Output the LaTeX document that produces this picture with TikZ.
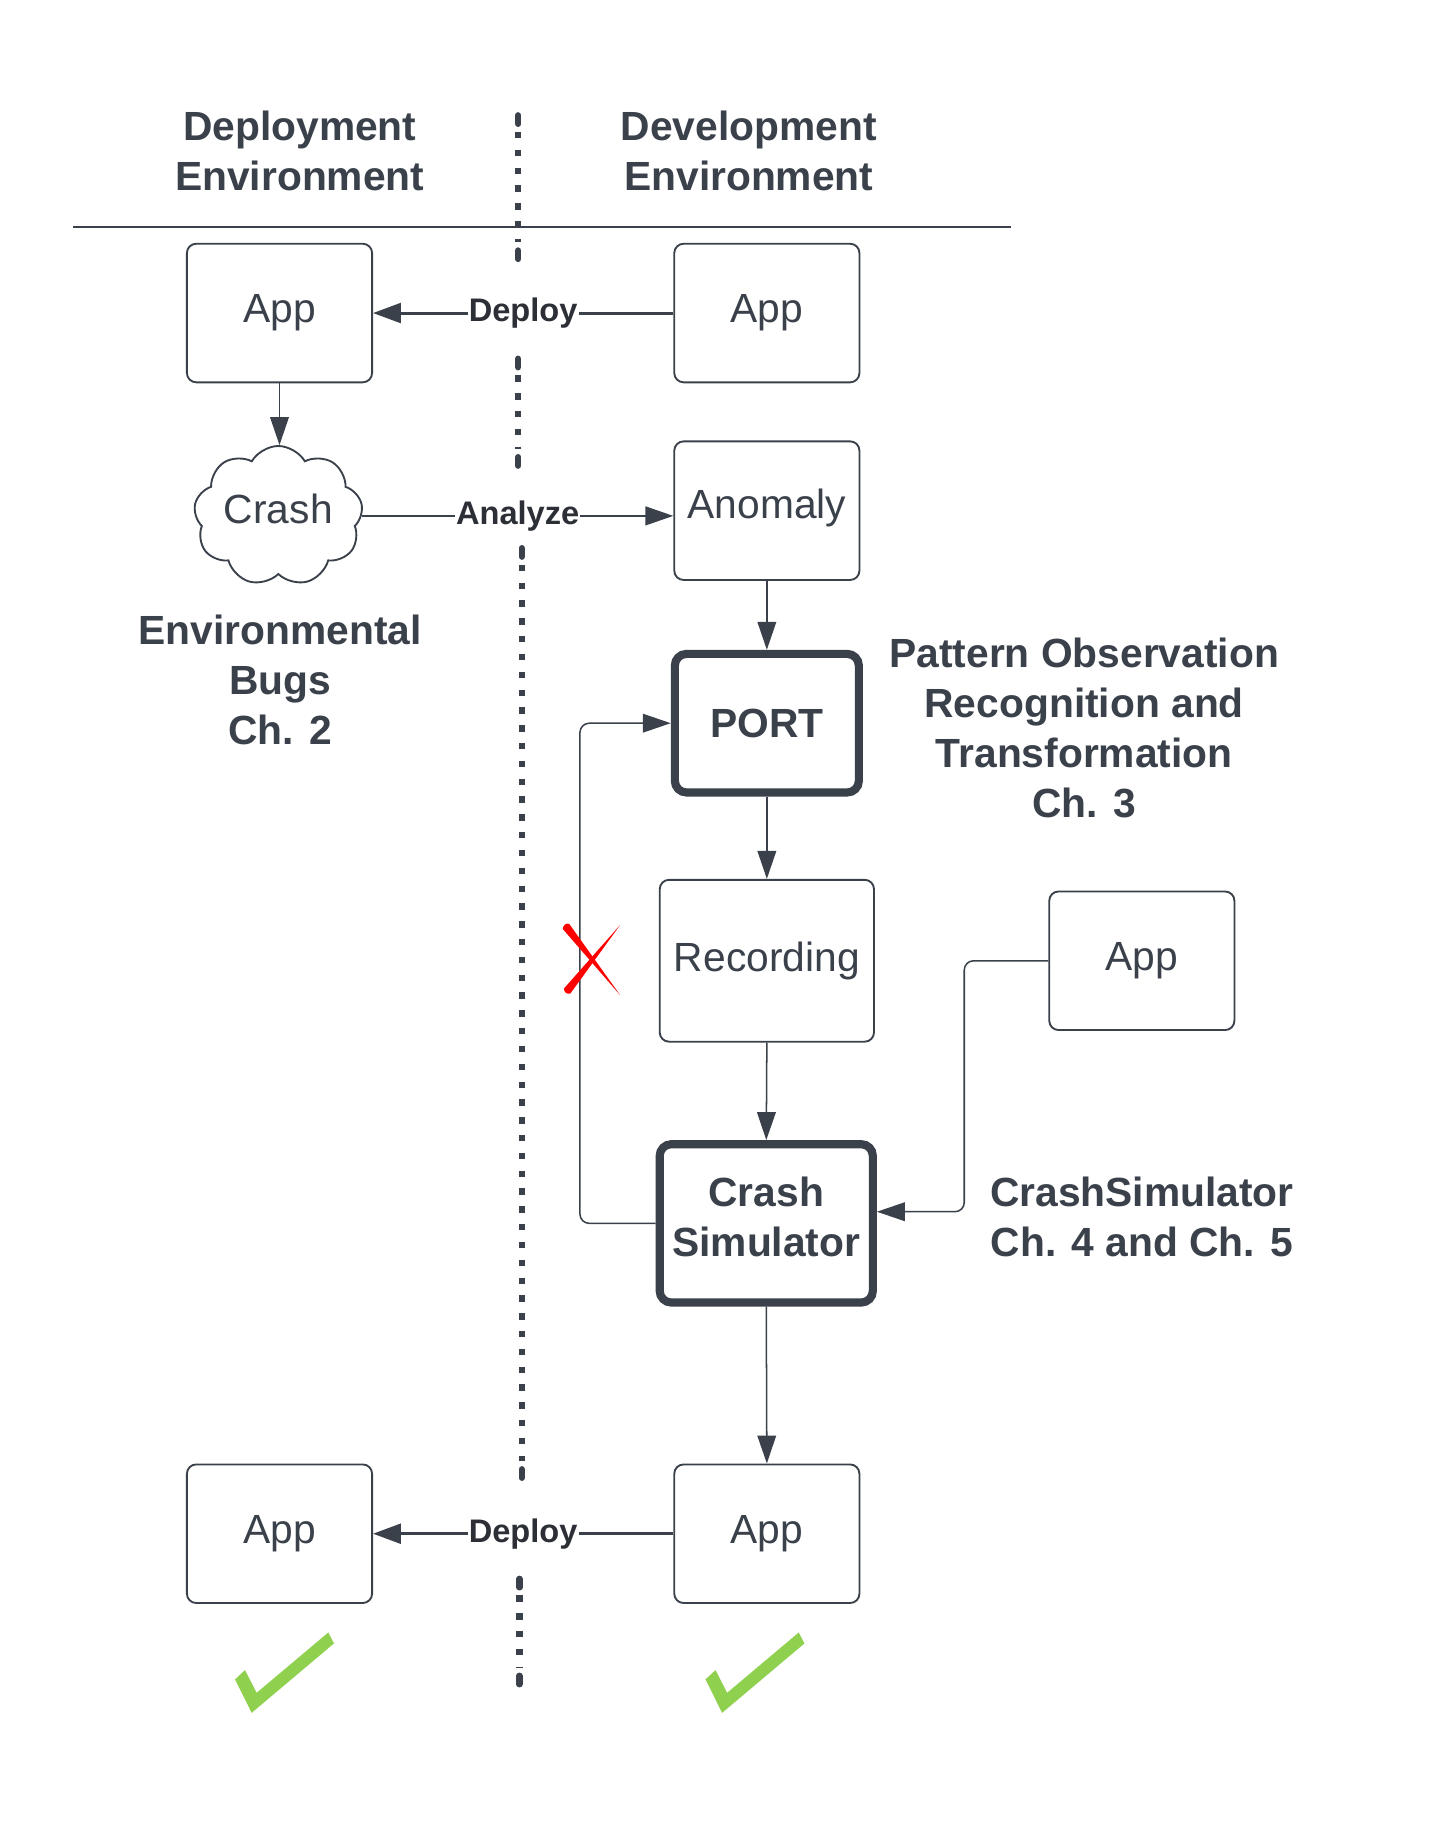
\documentclass[tikz,border=0pt]{standalone}
\usepackage{fontspec}
\setmainfont{Liberation Sans}
\usetikzlibrary{arrows.meta,shapes.symbols}
\definecolor{ink}{HTML}{3A414A}
\definecolor{lbl}{HTML}{2C2F35}
\definecolor{okgreen}{HTML}{8FD14F}
\definecolor{xred}{HTML}{FF0000}
\newcommand\divseg[3]{%
  \draw[divcap] (#1,#2+2.75) -- (#1,#2+10);
  \draw[divider] (#1,#2+17) -- (#1,#3-17);
  \draw[divcap] (#1,#3-10) -- (#1,#3-2.75);
}
\begin{document}
\begin{tikzpicture}[x=1pt,y=-1pt,
  box/.style={draw=ink, line width=1.6pt, rounded corners=8pt, inner sep=0pt, text=ink,
    font=\fontsize{35}{43}\selectfont, minimum width=159pt, minimum height=119pt},
  thickbox/.style={draw=ink, line width=7pt, rounded corners=10pt, inner sep=0pt, text=ink,
    font=\fontsize{35}{43}\selectfont\bfseries, align=center},
  head/.style={text=ink, font=\fontsize{35}{43}\selectfont\bfseries, align=center, inner sep=0pt},
  conn/.style={draw=ink, line width=1.3pt, -{Triangle[length=24pt,width=16pt]}},
  deploy/.style={draw=ink, line width=2.6pt, -{Triangle[length=24pt,width=17pt]}},
  lab/.style={fill=white, text=lbl, inner sep=1pt, font=\fontsize{28}{34}\selectfont\bfseries},
  divider/.style={draw=ink, line width=5.5pt, dash pattern=on 5.5pt off 9.8pt},
  divcap/.style={draw=ink, line width=5.5pt, line cap=round},
]
\useasboundingbox[fill=white] (0,0) rectangle (1240,1563.7);

\begin{scope}[shift={(-2,-1)}]
% dotted divider
\divseg{447}{97.3}{226.1}
\divseg{447}{306.3}{403.6}
\divseg{450}{469}{1272.7}
\divseg{448}{1354}{1450}

% separator line
\coordinate (sepL) at (65,196.2);
\coordinate (sepR) at (870,196.2);
\draw[ink, line width=1.6pt] (sepL) -- (sepR);

% headings (base anchor = baseline of last line)
\node[head, anchor=base] (hdep) at (259.4,164.5) {Deployment\\Environment};
\node[head, anchor=base] (hdev) at (645,164.5) {Development\\Environment};
\node[head, anchor=base] (envbugs) at (242.6,640) {Environmental\\Bugs\\Ch. 2};
\node[head, anchor=base] (pattern) at (933,703) {Pattern Observation\\Recognition and\\Transformation\\Ch. 3};
\node[head, anchor=base] (cstext) at (982.5,1080) {CrashSimulator\\Ch. 4 and Ch. 5};

% nodes
\node[box] (appTL) at (242,269.8) {App};
\node[box] (appTR) at (660.5,269.8) {App};
\node[draw=ink, line width=1.6pt, cloud, cloud puffs=9, cloud puff arc=120, aspect=1.32,
  minimum width=145pt, minimum height=109pt, inner sep=0pt, text=ink,
  font=\fontsize{35}{43}\selectfont, text depth=13pt] (crash) at (241,444) {Crash};
\node[box, text depth=12pt] (anomaly) at (660.5,439.5) {Anomaly};
\node[thickbox, minimum width=158pt, minimum height=119pt] (port) at (660.5,622) {PORT};
\node[box, minimum width=184pt, minimum height=139pt] (rec) at (660.5,826) {Recording};
\node[box] (appR) at (982.5,826) {App};
\node[thickbox, minimum width=183pt, minimum height=136pt, text depth=12pt] (crashsim) at (660,1051.5) {Crash\\Simulator};
\node[box] (appBR) at (660.5,1318) {App};
\node[box] (appBL) at (242,1318) {App};

% connectors
\draw[deploy] (appTR.west) -- node[lab] (dep1) {Deploy} (appTL.east);
\draw[conn] (appTL.south) -- (appTL.south |- crash.north);
\draw[conn, line width=2pt] (crash.east) -- node[lab] (ana) {Analyze} (crash.east -| anomaly.west);
\draw[conn] (anomaly.south) -- (port.north);
\draw[conn] (port.south) -- (rec.north);
\draw[conn] (rec.south) -- (crashsim.north);
\draw[conn] (crashsim.south) -- (appBR.north);
\coordinate (fb) at (500,0);
\draw[conn, rounded corners=8pt] (crashsim.west) -- (crashsim.west -| fb) -- (fb |- port.west) -- (port.west);
\coordinate (jr) at (830,1041.5);
\draw[conn, rounded corners=8pt] (appR.west) -| (jr) -- (jr -| crashsim.east);
\draw[deploy] (appBR.west) -- node[lab] (dep2) {Deploy} (appBL.east);
\end{scope}

% red cross
\begin{scope}[shift={(1.5,0)}]
\fill[xred] (481.75,797.7) .. controls (482,794) and (485,792.5) .. (487.25,793.3) -- (531,854.5) -- cycle;
\fill[xred] (531,794.3) -- (488.2,853.2) .. controls (485.5,854) and (482.5,852) .. (482.8,848.8) -- cycle;
\end{scope}

% check marks
\fill[okgreen] (201.8,1442.1) -- (210.4,1434.1) -- (220.4,1453.6) -- (281.9,1401.8) -- (286.8,1411.2) -- (216.1,1470.8) -- cycle;
\fill[okgreen] (605.8,1442.1) -- (614.4,1434.1) -- (624.4,1453.6) -- (685.9,1401.8) -- (690.8,1411.2) -- (620.1,1470.8) -- cycle;
\end{tikzpicture}
\end{document}
